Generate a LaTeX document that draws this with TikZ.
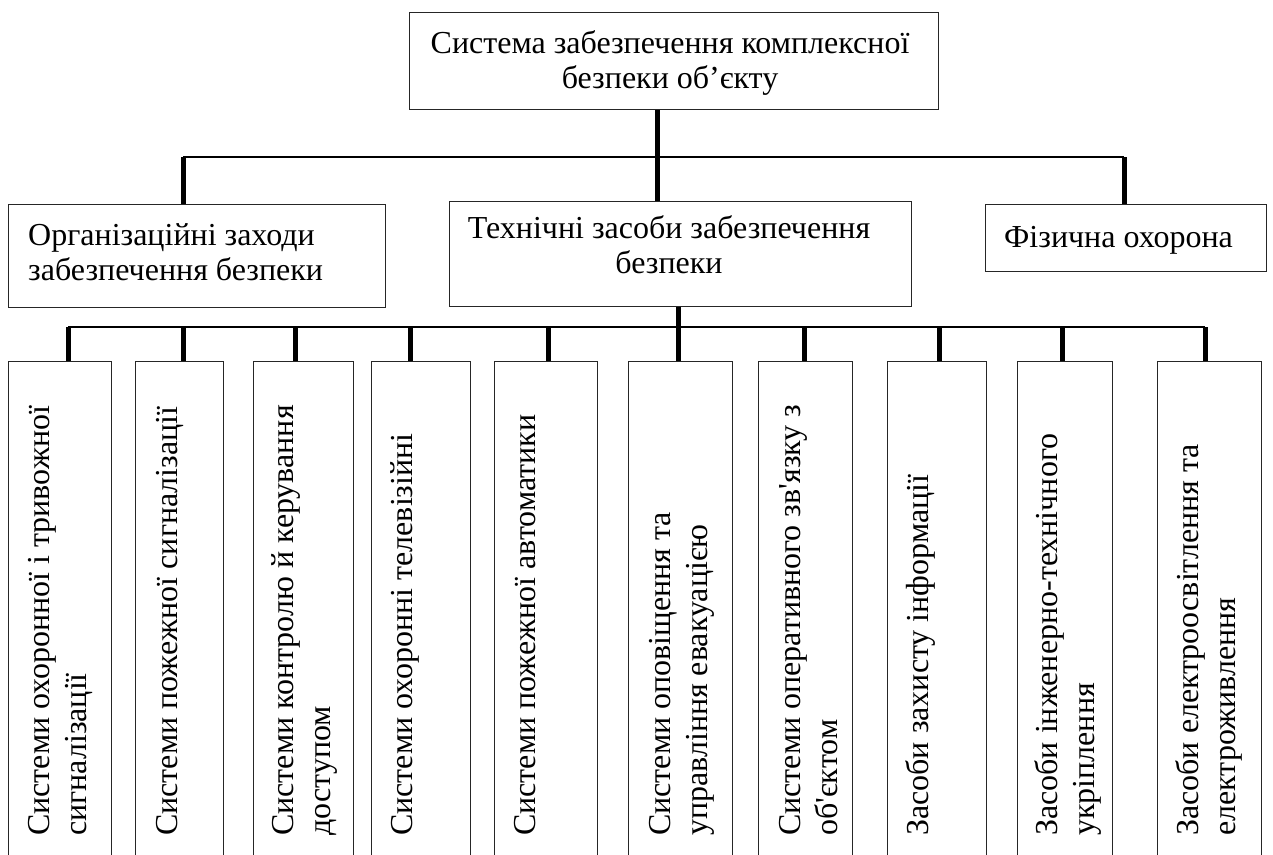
\documentclass[tikz,border=0pt]{standalone}
\usepackage{fontspec}
\setmainfont{Liberation Serif}
\usetikzlibrary{calc}

% one unit = one point, y grows downwards
\tikzset{
  frame/.style={draw=black!85, line width=1.3pt, inner sep=0pt, anchor=north west},
  bus/.style={line width=2pt},
  stem/.style={line width=5pt},
  txt/.style={inner sep=0pt, font=\fontsize{32}{35}\selectfont},
  vtxt/.style={inner sep=0pt, rotate=90, anchor=base west, font=\fontsize{32}{37}\selectfont},
}
\newcommand{\lft}[1]{\begin{tabular}[t]{@{}l@{}}#1\end{tabular}}
\newcommand{\ctr}[1]{\begin{tabular}[t]{@{}c@{}}#1\end{tabular}}

\begin{document}
\begin{tikzpicture}[x=1pt, y=-1pt]
\useasboundingbox (0,0) rectangle (1273,854);
\clip (0,0) rectangle (1273,854);

% ---------- top level ----------
\node[frame, minimum width=529pt, minimum height=97pt] (top) at (409,12) {};
\node[txt, anchor=base] (topt) at (670,53) {\ctr{Система забезпечення комплексної\\безпеки об’єкту}};

% ---------- second level ----------
\node[frame, minimum width=377pt, minimum height=103pt] (org) at (8,204) {};
\node[txt, anchor=base west] (orgt) at (28,245) {\lft{Організаційні заходи\\забезпечення безпеки}};

\node[frame, minimum width=462pt, minimum height=105pt] (tech) at (449,201) {};
\node[txt, anchor=base] (techt) at (669,238) {\ctr{Технічні засоби забезпечення\\безпеки}};

\node[frame, minimum width=281pt, minimum height=67pt] (phys) at (985,204) {};
\node[txt, anchor=base west] (physt) at (1004,247) {Фізична охорона};

% upper bus
\coordinate (j0) at (657,157);
\coordinate (u1) at (183,157);
\coordinate (u2) at (1124,157);
\draw[bus] (u1) -- (u2);
\draw[stem] (top.south -| j0) -- (j0 |- tech.north);
\draw[stem] (u1) -- (u1 |- org.north);
\draw[stem] (u2) -- (u2 |- phys.north);

% ---------- third level ----------
\foreach \n/\l/\w in {1/8/103, 2/135/88, 3/253/100, 4/371/99, 5/494/103,
                      6/628/104, 7/758/94, 8/887/99, 9/1017/95, 10/1157/104}{
  \node[frame, minimum width=\w pt, minimum height=540pt] (b\n) at (\l,361) {};
}

\node[vtxt] (t1) at ($(b1.north west)+(41,475)$) {\lft{Системи охоронної і тривожної\\сигналізації}};
\node[vtxt] (t2) at ($(b2.north west)+(42,475)$) {\lft{Системи пожежної сигналізації}};
\node[vtxt] (t3) at ($(b3.north west)+(40,475)$) {\lft{Системи контролю й керування\\доступом}};
\node[vtxt] (t4) at ($(b4.north west)+(41,475)$) {\lft{Системи охоронні телевізійні}};
\node[vtxt] (t5) at ($(b5.north west)+(41,475)$) {\lft{Системи пожежної автоматики}};
\node[vtxt] (t6) at ($(b6.north west)+(42,475)$) {\lft{Системи оповіщення та\\управління евакуацією}};
\node[vtxt] (t7) at ($(b7.north west)+(42,475)$) {\lft{Системи оперативного зв\textquotesingle язку з\\об\textquotesingle єктом}};
\node[vtxt] (t8) at ($(b8.north west)+(41,475)$) {\lft{Засоби захисту інформації}};
\node[vtxt] (t9) at ($(b9.north west)+(40,475)$) {\lft{Засоби інженерно-технічного\\укріплення}};
\node[vtxt] (t10) at ($(b10.north west)+(41,475)$) {\lft{Засоби електроосвітлення та\\електроживлення}};

% lower bus
\coordinate (l0) at (678,327);
\coordinate (l1) at (68,327);
\coordinate (l2) at (1205,327);
\draw[bus] (l1) -- (l2);
\draw[stem] (tech.south -| l0) -- (l0 |- b6.north);
\foreach \n/\x in {1/68, 2/183, 3/295, 4/410, 5/548, 7/804, 8/939, 9/1062, 10/1205}{
  \coordinate (d\n) at (\x,327);
  \draw[stem] (d\n) -- (d\n |- b\n.north);
}
\end{tikzpicture}
\end{document}
